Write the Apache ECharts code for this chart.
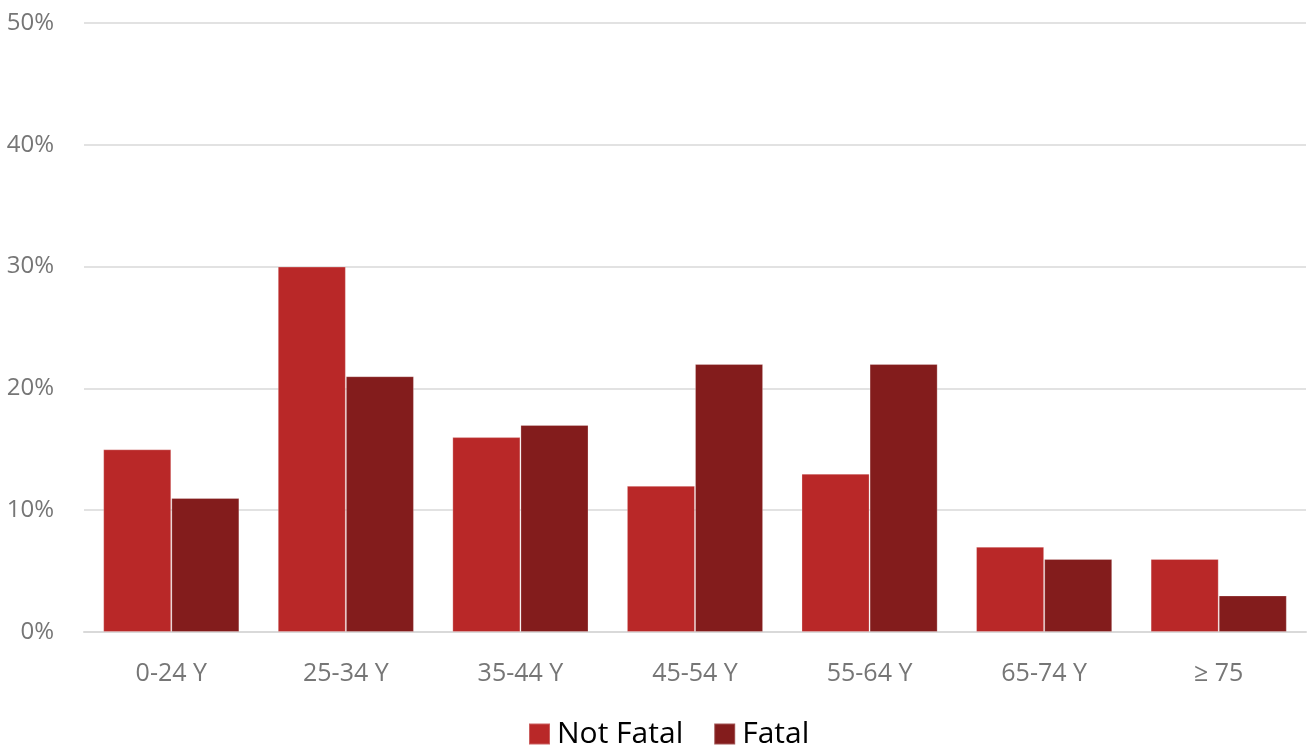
<!DOCTYPE html>
<html>
<head>
<meta charset="utf-8">
<script src="https://cdn.jsdelivr.net/npm/echarts@6/dist/echarts.min.js"></script>
<style>
  html, body { margin: 0; padding: 0; background: #ffffff; }
  #chart { width: 1312px; height: 748px; }
</style>
</head>
<body>
<div id="chart"></div>
<script>
// Age groups on the x axis
const categories = ['0-24 Y', '25-34 Y', '35-44 Y', '45-54 Y', '55-64 Y', '65-74 Y', '\u2265 75'];
// Share of accidents per age group (%)
const notFatal = [15, 30, 16, 12, 13, 7, 6];
const fatal = [11, 21, 17, 22, 22, 6, 3];
// Series names shown in the legend
const seriesNames = ['Not Fatal', 'Fatal'];

const FONT = '"Open Sans", "Noto Sans", sans-serif';

const chart = echarts.init(document.getElementById('chart'), null, { renderer: 'canvas' });
chart.setOption({
  animation: false,
  backgroundColor: '#ffffff',
  grid: { left: 84, right: 6, top: 23, bottom: 116, containLabel: false },
  legend: {
    bottom: -1,
    left: 528,
    padding: 0,
    itemWidth: 21,
    itemHeight: 21,
    itemGap: 30,
    icon: 'rect',
    textStyle: { fontFamily: FONT, fontSize: 30, color: '#000000', padding: [0, 0, 0, 2] },
    data: seriesNames
  },
  xAxis: {
    type: 'category',
    data: categories,
    axisLine: { show: true, lineStyle: { color: '#d9d9d9', width: 2 } },
    axisTick: { show: false },
    axisLabel: { fontFamily: FONT, fontSize: 25, color: '#767676', margin: 29 }
  },
  yAxis: {
    type: 'value',
    min: 0,
    max: 50,
    interval: 10,
    axisLine: { show: false },
    axisTick: { show: false },
    splitLine: { lineStyle: { color: '#d9d9d9', width: 1.5 } },
    axisLabel: { fontFamily: FONT, fontSize: 24, color: '#767676', margin: 30, formatter: '{value}%' }
  },
  series: [
    {
      name: seriesNames[0],
      type: 'bar',
      data: notFatal,
      barGap: '0%',
      barCategoryGap: '22%',
      itemStyle: { color: '#b92828', borderColor: 'rgba(255,255,255,0.25)', borderWidth: 1 }
    },
    {
      name: seriesNames[1],
      type: 'bar',
      data: fatal,
      itemStyle: { color: '#831c1c', borderColor: 'rgba(255,255,255,0.25)', borderWidth: 1 }
    }
  ]
});
</script>
</body>
</html>
